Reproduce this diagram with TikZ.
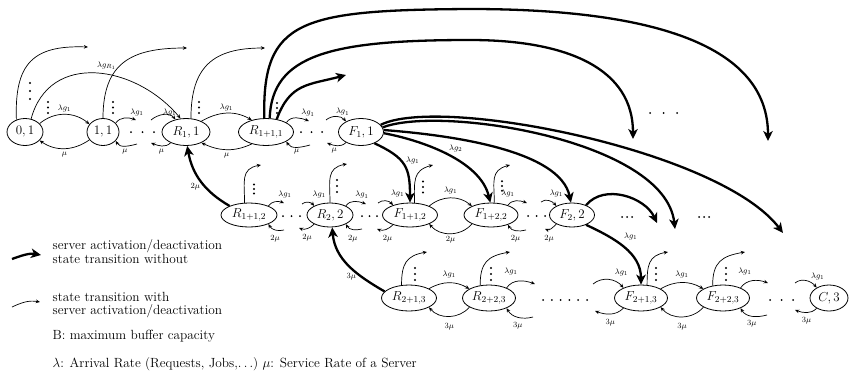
\RequirePackage{fix-cm}
\documentclass[tikz,border=0pt]{standalone}
\usetikzlibrary{arrows.meta,shapes.geometric}
\newcommand{\mkc}[3]{\coordinate (#1) at (#2,-#3);}
\newcommand{\mkn}[6]{\node[st,minimum width=#4pt,minimum height=#5pt] (#1) at (#2,-#3) {$#6$};}
\newcommand{\vdd}[3]{\foreach \k in {-1,0,1}{\fill ({#1},{-(#2)-\k*(#3)}) circle (1.1pt);}}
\newcommand{\hdd}[4]{\foreach \k in {1,...,#4}{\fill ({#1+(\k-1)*(#3)},{-(#2)}) circle (1pt);}}
\begin{document}
\begin{tikzpicture}[x=1pt,y=1pt,
 st/.style={ellipse,draw,line width=0.8pt,inner sep=0pt,font=\fontsize{13}{15}\selectfont},
 tn/.style={line width=0.7pt,-{Stealth[length=4.2pt,width=3.6pt]}},
 tk/.style={line width=2.3pt,-{Stealth[length=10pt,width=9.5pt,inset=2.8pt]}},
 lb/.style={font=\fontsize{8}{9}\selectfont,inner sep=1.2pt},
 txt/.style={font=\fontsize{13.3}{13.3}\selectfont,align=left,anchor=west,inner sep=0pt}]
\useasboundingbox (0,0) rectangle (849,-370);
% ---------- states ----------
\mkn{n01}{25}{132}{36}{27}{0,1}
\mkn{n11}{103}{132}{32}{27}{1,1}
\mkn{nR1}{186}{132}{48}{27}{R_1,1}
\mkn{nR11}{266}{132}{55}{27}{R_{1+1,1}}
\mkn{nF1}{361}{132}{45}{27}{F_1,1}
\mkn{nR12}{249}{215}{56}{24}{R_{1+1,2}}
\mkn{nR22}{330}{215}{46}{24}{R_2,2}
\mkn{nF12}{410}{215}{55}{24}{F_{1+1,2}}
\mkn{nF22}{491}{215}{54}{24}{F_{1+2,2}}
\mkn{nF2}{572}{215}{45}{24}{F_2,2}
\mkn{nR13}{409}{298}{55}{26}{R_{2+1,3}}
\mkn{nR23}{489}{298}{53}{26}{R_{2+2,3}}
\mkn{nF13}{641}{298}{53}{26}{F_{2+1,3}}
\mkn{nF23}{723}{298}{53}{26}{F_{2+2,3}}
\mkn{nC3}{829}{298}{38}{26}{C,3}
% ---------- free ends ----------
\mkc{e01}{88}{47}\mkc{e11}{187}{48}\mkc{eR1}{265}{48}
\mkc{s11r}{136}{120}\mkc{s11m}{137}{144}
\mkc{sR1l}{151}{120}\mkc{sR1m}{151}{143}
\mkc{sR11r}{309}{121}\mkc{sR11m}{310}{145}
\mkc{sF1l}{326}{120}\mkc{sF1m}{327}{143}
\mkc{eT1}{768}{141}\mkc{eT2}{633}{139}\mkc{eT3}{346}{75}
\mkc{eFa}{783}{233}\mkc{eFb}{675}{229}\mkc{eF2a}{657}{223}
\mkc{uR12}{261}{165}\mkc{sR12r}{284}{203}\mkc{sR12m}{284}{230}
\mkc{sR22l}{302}{204}\mkc{uR22}{347}{164}\mkc{sR22r}{366}{204}\mkc{sR22m}{299}{228}\mkc{sR22n}{362}{229}
\mkc{sF12l}{378}{203}\mkc{sF12m}{377}{229}\mkc{uF12}{433}{165}
\mkc{uF22}{510}{165}\mkc{sF22r}{527}{203}\mkc{sF22m}{526}{230}
\mkc{sF2l}{541}{202}\mkc{sF2m}{545}{229}
\mkc{uR13}{427}{252}\mkc{uR23}{510}{252}\mkc{sR23r}{535}{284}\mkc{sR23m}{533}{317}
\mkc{sF13l}{593}{284}\mkc{sF13m}{595}{311}\mkc{uF13}{668}{252}
\mkc{uF23}{745}{252}\mkc{sF23r}{768}{283}\mkc{sF23m}{767}{315}
\mkc{sC3l}{795}{283}\mkc{sC3m}{795}{310}
\mkc{lg1a}{12}{259}\mkc{lg1b}{41}{255}\mkc{lg2a}{12}{307}\mkc{lg2b}{40}{302}
% ---------- row 1 thin ----------
\draw[tn] (n01.30) to[out=40,in=140] node[lb,above=1pt]{$\lambda g_1$} (n11.150);
\draw[tn] (n11.-150) to[out=-145,in=-35] node[lb,below=2.3pt]{$\mu$} (n01.-30);
\draw[tn] (n01.65) to[out=75,in=130,looseness=1.2] node[lb,pos=0.55,above=2.5pt,xshift=2pt]{$\lambda g_{R_1}$} (nR1.112);
\draw[tn] (n01.125) to[out=92,in=178,looseness=1.4] (e01);
\draw[tn] (n11.90) to[out=90,in=180,looseness=1.3] (e11);
\draw[tn] (nR1.70) to[out=90,in=180,looseness=1.3] (eR1);
\draw[tn] (n11.35) to[out=55,in=160] node[lb,pos=1,above=2.6pt,xshift=1pt]{$\lambda g_1$} (s11r);
\draw[tn] (s11m) to[out=195,in=-60] node[lb,pos=0.5,below=1.8pt]{$\mu$} (n11.-35);
\draw[tn] (sR1l) to[out=40,in=130] node[lb,pos=1,above=2pt,xshift=-5.8pt]{$\lambda g_1$} (nR1.130);
\draw[tn] (nR1.-145) to[out=-135,in=-20] node[lb,pos=0.5,below=1.3pt]{$\mu$} (sR1m);
\draw[tn] (nR1.35) to[out=30,in=150] node[lb,above=1pt]{$\lambda g_1$} (nR11.140);
\draw[tn] (nR11.-140) to[out=-155,in=-25] node[lb,below=2.3pt]{$\mu$} (nR1.-35);
\draw[tn] (nR11.25) to[out=55,in=160] node[lb,pos=1,above=3pt,xshift=-1pt]{$\lambda g_1$} (sR11r);
\draw[tn] (sR11m) to[out=195,in=-60] node[lb,pos=0.5,below=0.8pt]{$\mu$} (nR11.-25);
\draw[tn] (sF1l) to[out=40,in=130] node[lb,pos=1,above=4.5pt,xshift=-3.4pt]{$\lambda g_1$} (nF1.145);
\draw[tn] (nF1.-145) to[out=-135,in=-20] node[lb,pos=0.5,below=0.5pt,xshift=-3pt]{$\mu$} (sF1m);
% ---------- row 2 thin ----------
\draw[tn] (nR12.110) to[out=90,in=190,looseness=1.3] (uR12);
\draw[tn] (nR12.25) to[out=55,in=160] node[lb,pos=1,above=3.1pt,xshift=1pt]{$\lambda g_1$} (sR12r);
\draw[tn] (sR12m) to[out=195,in=-60] node[lb,pos=0.5,below=3.6pt]{$2\mu$} (nR12.-25);
\draw[tn] (sR22l) to[out=40,in=130] node[lb,pos=1,above=6pt,xshift=5pt]{$\lambda g_1$} (nR22.150);
\draw[tn] (nR22.90) to[out=90,in=190,looseness=1.3] (uR22);
\draw[tn] (nR22.30) to[out=55,in=160] node[lb,pos=1,above=4pt,xshift=-4pt]{$\lambda g_1$} (sR22r);
\draw[tn] (nR22.-150) to[out=-135,in=-20] node[lb,pos=0.5,below=4.5pt]{$2\mu$} (sR22m);
\draw[tn] (sR22n) to[out=195,in=-60] node[lb,pos=0.5,below=4.5pt]{$2\mu$} (nR22.-30);
\draw[tn] (sF12l) to[out=40,in=130] node[lb,pos=1,above=7pt,xshift=4.6pt]{$\lambda g_1$} (nF12.150);
\draw[tn] (nF12.-150) to[out=-135,in=-20] node[lb,pos=0.5,below=4.4pt,xshift=2pt]{$2\mu$} (sF12m);
\draw[tn] (nF12.70) to[out=90,in=195,looseness=1.3] (uF12);
\draw[tn] (nF12.25) to[out=40,in=140] node[lb,above=2.6pt]{$\lambda g_1$} (nF22.155);
\draw[tn] (nF22.-155) to[out=-130,in=-50] node[lb,below=1.3pt]{$2\mu$} (nF12.-25);
\draw[tn] (nF22.75) to[out=90,in=195,looseness=1.3] (uF22);
\draw[tn] (nF22.30) to[out=55,in=160] node[lb,pos=0,above=6.5pt]{$\lambda g_1$} (sF22r);
\draw[tn] (sF22m) to[out=195,in=-60] node[lb,pos=0.5,below=3.5pt]{$2\mu$} (nF22.-30);
\draw[tn] (sF2l) to[out=40,in=130] node[lb,pos=1,above=7pt]{$\lambda g_1$} (nF2.150);
\draw[tn] (nF2.-150) to[out=-135,in=-20] node[lb,pos=0.5,below=5pt,xshift=-2pt]{$2\mu$} (sF2m);
% ---------- row 3 thin ----------
\draw[tn] (nR13.120) to[out=90,in=190,looseness=1.3] (uR13);
\draw[tn] (nR13.25) to[out=30,in=150] node[lb,above=3pt]{$\lambda g_1$} (nR23.155);
\draw[tn] (nR23.-155) to[out=-130,in=-50] node[lb,below=5pt]{$3\mu$} (nR13.-25);
\draw[tn] (nR23.125) to[out=90,in=190,looseness=1.3] (uR23);
\draw[tn] (nR23.30) to[out=55,in=160] node[lb,pos=0.2,above=7pt]{$\lambda g_1$} (sR23r);
\draw[tn] (sR23m) to[out=195,in=-60] node[lb,pos=0.5,below=3.4pt]{$3\mu$} (nR23.-30);
\draw[tn] (sF13l) to[out=40,in=130] node[lb,pos=1,above=10pt,xshift=-2pt]{$\lambda g_1$} (nF13.150);
\draw[tn] (nF13.-150) to[out=-135,in=-20] node[lb,pos=0.5,below=3.5pt]{$3\mu$} (sF13m);
\draw[tn] (nF13.65) to[out=90,in=190,looseness=1.3] (uF13);
\draw[tn] (nF13.25) to[out=30,in=150] node[lb,above=3pt]{$\lambda g_1$} (nF23.155);
\draw[tn] (nF23.-155) to[out=-130,in=-50] node[lb,below=5pt]{$3\mu$} (nF13.-25);
\draw[tn] (nF23.130) to[out=90,in=190,looseness=1.3] (uF23);
\draw[tn] (nF23.30) to[out=55,in=160] node[lb,pos=0.2,above=7pt]{$\lambda g_1$} (sF23r);
\draw[tn] (sF23m) to[out=195,in=-60] node[lb,pos=0.5,below=2.5pt]{$3\mu$} (nF23.-30);
\draw[tn] (sC3l) to[out=40,in=130] node[lb,pos=1,above=6pt,xshift=1pt]{$\lambda g_1$} (nC3.140);
\draw[tn] (nC3.-140) to[out=-135,in=-20] node[lb,pos=0.5,below=3pt]{$3\mu$} (sC3m);
% ---------- thick transitions ----------
\draw[tk] (nR11.97) .. controls (262,-20) and (300,-10) .. (470,-9) .. controls (610,-9) and (768,-30) .. (eT1);
\draw[tk] (nR11.75) .. controls (272,-55) and (330,-40) .. (470,-40) .. controls (570,-40) and (633,-70) .. (eT2);
\draw[tk] (nR11.50) to[out=70,in=195,looseness=1.2] (eT3);
\draw[tk] (nF1.20) .. controls (440,-95) and (720,-150) .. (eFa);
\draw[tk] (nF1.12) .. controls (440,-105) and (665,-140) .. (eFb);
\draw[tk] (nF1.5) .. controls (450,-135) and (560,-150) .. (nF2.95);
\draw[tk] (nF1.-3) .. controls (420,-140) and (480,-160) .. node[lb,pos=0.5,anchor=south west]{$\lambda g_2$} (nF22.93);
\draw[tk] (nF1.-40) to[out=-25,in=90,looseness=1.3] node[lb,pos=0.4,right=3pt]{$\lambda g_1$} (nF12.north);
\draw[tk] (nF2.35) to[out=50,in=115] (eF2a);
\draw[tk] (nF2.-35) to[out=-25,in=90] node[lb,pos=0.4,anchor=south west,xshift=4pt]{$\lambda g_1$} (nF13.north);
\draw[tk] (nR12.155) to[out=150,in=-80] node[lb,pos=0.4,left=3pt]{$2\mu$} (nR1.-85);
\draw[tk] (nR13.165) to[out=150,in=-85] node[lb,pos=0.3,left=3pt]{$3\mu$} (nR22.-80);
% ---------- dots ----------
\vdd{30}{91}{8}
\vdd{48}{107.5}{5.5}\vdd{113}{107.5}{5.5}\vdd{199}{107.5}{5.5}\vdd{277}{108}{5}
\vdd{254}{189}{4.5}\vdd{337}{186}{6}\vdd{423}{187}{5.5}\vdd{502}{186}{4.7}
\vdd{415}{274}{6}\vdd{491}{274}{6}\vdd{656}{274}{6}\vdd{726}{274}{6}
\hdd{131}{132}{11.5}{3}\hdd{301}{132}{10.5}{3}
\hdd{283}{216}{8.5}{3}\hdd{362}{216}{7.5}{3}\hdd{528}{216}{8.5}{3}
\hdd{622}{217}{5}{3}\hdd{699}{217}{5}{3}
\hdd{543}{300}{8.8}{6}\hdd{770}{300}{11.5}{3}
\hdd{650}{113}{13.5}{3}
% ---------- legend ----------
\draw[tk] (lg1a) to[out=20,in=170] (lg1b);
\draw[tn] (lg2a) to[out=25,in=170] (lg2b);
\node[txt] (t1) at (52.5,-251.5) {server activation/deactivation\\state transition without};
\node[txt,font=\fontsize{13.3}{12.6}\selectfont] (t2) at (52.5,-305) {state transition with\\server activation/deactivation};
\node[txt] (t3) at (52.5,-336) {B: maximum buffer capacity};
\node[txt] (t4) at (52.5,-364) {$\lambda$: Arrival Rate (Requests, Jobs,$\ldots$) $\mu$: Service Rate of a Server};
\end{tikzpicture}
\end{document}
